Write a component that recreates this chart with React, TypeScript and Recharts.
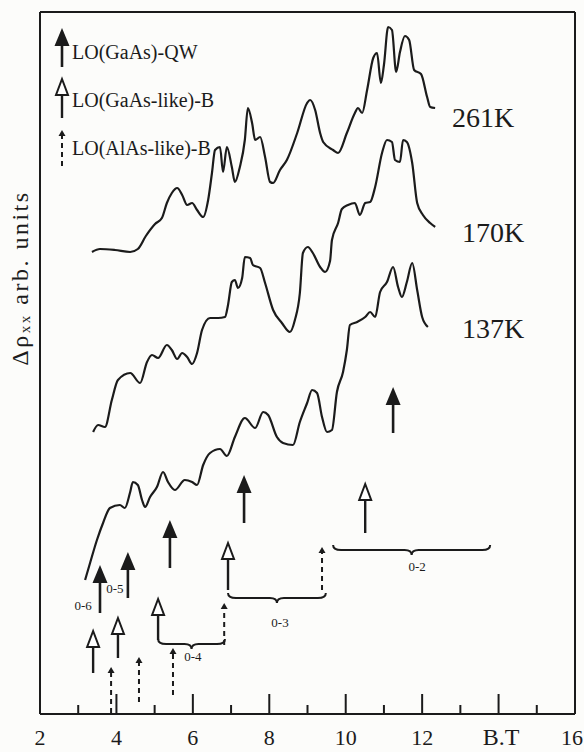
import React from 'react';
import { ComposedChart, Line, Scatter, XAxis, YAxis, ReferenceLine, Legend } from 'recharts';

const INK = '#1b1b1b';
const SERIF = '"Liberation Serif", "DejaVu Serif", "Times New Roman", serif';

// Magnetoresistance oscillations, Δρxx (arb. units) versus B (T)
const curve261K = [
  { b: 3.36, v: 46.2 }, { b: 3.57, v: 46.5 }, { b: 3.96, v: 46.4 }, { b: 4.36, v: 46.2 }, { b: 4.56, v: 46.5 },
  { b: 4.77, v: 47.8 }, { b: 5.01, v: 49.0 }, { b: 5.19, v: 49.6 }, { b: 5.32, v: 51.1 }, { b: 5.45, v: 52.1 },
  { b: 5.59, v: 52.6 }, { b: 5.72, v: 51.9 }, { b: 5.85, v: 50.9 }, { b: 5.98, v: 51.1 }, { b: 6.11, v: 50.4 },
  { b: 6.27, v: 49.7 }, { b: 6.40, v: 51.4 }, { b: 6.50, v: 54.1 }, { b: 6.58, v: 56.4 }, { b: 6.71, v: 56.7 },
  { b: 6.79, v: 54.2 }, { b: 6.89, v: 56.7 }, { b: 7.02, v: 54.7 }, { b: 7.10, v: 53.2 }, { b: 7.23, v: 54.7 },
  { b: 7.36, v: 57.4 }, { b: 7.44, v: 60.6 }, { b: 7.55, v: 59.1 }, { b: 7.63, v: 57.4 }, { b: 7.76, v: 57.7 },
  { b: 7.89, v: 55.7 }, { b: 8.02, v: 53.2 }, { b: 8.10, v: 53.1 }, { b: 8.28, v: 54.4 }, { b: 8.46, v: 55.4 },
  { b: 8.73, v: 58.1 }, { b: 8.99, v: 61.1 }, { b: 9.07, v: 61.4 }, { b: 9.20, v: 60.4 }, { b: 9.33, v: 58.1 },
  { b: 9.41, v: 57.2 }, { b: 9.67, v: 56.4 }, { b: 9.80, v: 56.1 }, { b: 10.03, v: 58.1 }, { b: 10.24, v: 60.1 },
  { b: 10.32, v: 60.6 }, { b: 10.43, v: 60.1 }, { b: 10.56, v: 62.4 }, { b: 10.72, v: 65.6 }, { b: 10.82, v: 66.1 },
  { b: 10.92, v: 63.1 }, { b: 11.00, v: 64.9 }, { b: 11.11, v: 68.7 }, { b: 11.21, v: 68.4 }, { b: 11.32, v: 64.2 },
  { b: 11.42, v: 66.2 }, { b: 11.55, v: 67.8 }, { b: 11.66, v: 67.4 }, { b: 11.79, v: 64.4 }, { b: 11.97, v: 64.0 },
  { b: 12.13, v: 61.7 }, { b: 12.21, v: 60.7 }, { b: 12.34, v: 60.6 },
];

const curve170K = [
  { b: 3.39, v: 28.2 }, { b: 3.52, v: 28.9 }, { b: 3.70, v: 28.7 }, { b: 3.88, v: 31.4 }, { b: 4.04, v: 33.4 },
  { b: 4.36, v: 34.1 }, { b: 4.62, v: 33.1 }, { b: 4.80, v: 35.2 }, { b: 4.93, v: 35.9 }, { b: 5.09, v: 35.6 },
  { b: 5.32, v: 36.9 }, { b: 5.45, v: 36.4 }, { b: 5.59, v: 35.5 }, { b: 5.72, v: 36.1 }, { b: 5.85, v: 35.7 },
  { b: 5.98, v: 35.0 }, { b: 6.11, v: 36.1 }, { b: 6.24, v: 38.4 }, { b: 6.45, v: 39.6 }, { b: 6.66, v: 39.6 },
  { b: 6.84, v: 39.7 }, { b: 6.92, v: 40.9 }, { b: 7.02, v: 43.2 }, { b: 7.10, v: 43.4 }, { b: 7.18, v: 42.6 },
  { b: 7.29, v: 43.6 }, { b: 7.36, v: 45.7 }, { b: 7.50, v: 45.6 }, { b: 7.57, v: 44.9 }, { b: 7.76, v: 44.6 },
  { b: 7.89, v: 43.1 }, { b: 8.10, v: 40.4 }, { b: 8.33, v: 39.1 }, { b: 8.54, v: 38.2 }, { b: 8.67, v: 39.4 },
  { b: 8.80, v: 42.1 }, { b: 8.88, v: 46.1 }, { b: 9.01, v: 46.7 }, { b: 9.14, v: 46.1 }, { b: 9.33, v: 44.7 },
  { b: 9.46, v: 44.2 }, { b: 9.59, v: 45.3 }, { b: 9.64, v: 47.4 }, { b: 9.80, v: 49.1 }, { b: 9.90, v: 50.5 },
  { b: 10.06, v: 50.9 }, { b: 10.24, v: 51.1 }, { b: 10.37, v: 49.9 }, { b: 10.51, v: 51.1 }, { b: 10.64, v: 51.2 },
  { b: 10.77, v: 52.7 }, { b: 10.95, v: 56.1 }, { b: 11.08, v: 57.4 }, { b: 11.21, v: 57.2 }, { b: 11.29, v: 55.4 },
  { b: 11.42, v: 55.2 }, { b: 11.50, v: 57.4 }, { b: 11.60, v: 57.2 }, { b: 11.74, v: 55.1 }, { b: 11.87, v: 51.1 },
  { b: 12.02, v: 49.9 }, { b: 12.21, v: 49.1 }, { b: 12.34, v: 48.7 },
];

const curve137K = [
  { b: 3.18, v: 13.4 }, { b: 3.31, v: 15.1 }, { b: 3.49, v: 17.4 }, { b: 3.65, v: 19.1 }, { b: 3.83, v: 20.6 },
  { b: 4.09, v: 20.9 }, { b: 4.22, v: 20.6 }, { b: 4.36, v: 22.2 }, { b: 4.43, v: 23.2 }, { b: 4.56, v: 22.9 },
  { b: 4.67, v: 21.4 }, { b: 4.75, v: 20.7 }, { b: 4.88, v: 21.7 }, { b: 5.06, v: 22.7 }, { b: 5.22, v: 24.2 },
  { b: 5.35, v: 23.2 }, { b: 5.53, v: 22.4 }, { b: 5.79, v: 23.4 }, { b: 5.98, v: 23.2 }, { b: 6.11, v: 22.9 },
  { b: 6.27, v: 24.9 }, { b: 6.45, v: 26.1 }, { b: 6.71, v: 26.5 }, { b: 6.89, v: 25.8 }, { b: 7.10, v: 27.7 },
  { b: 7.36, v: 29.6 }, { b: 7.63, v: 28.6 }, { b: 7.84, v: 30.2 }, { b: 7.97, v: 29.9 }, { b: 8.20, v: 27.7 },
  { b: 8.36, v: 27.1 }, { b: 8.62, v: 26.9 }, { b: 8.80, v: 29.2 }, { b: 8.99, v: 31.1 }, { b: 9.12, v: 32.4 },
  { b: 9.25, v: 32.1 }, { b: 9.38, v: 29.7 }, { b: 9.51, v: 28.2 }, { b: 9.64, v: 28.4 }, { b: 9.77, v: 32.2 },
  { b: 9.93, v: 34.2 }, { b: 10.03, v: 36.4 }, { b: 10.11, v: 38.9 }, { b: 10.30, v: 39.2 }, { b: 10.51, v: 39.7 },
  { b: 10.64, v: 40.2 }, { b: 10.77, v: 39.7 }, { b: 10.90, v: 42.2 }, { b: 11.08, v: 43.2 }, { b: 11.24, v: 44.7 },
  { b: 11.37, v: 42.7 }, { b: 11.47, v: 41.7 }, { b: 11.60, v: 43.2 }, { b: 11.74, v: 45.1 }, { b: 11.87, v: 42.4 },
  { b: 12.00, v: 39.7 }, { b: 12.15, v: 38.7 },
];

// Phonon-resonance markers: position in B, tail and tip heights (arb. units)
const qwArrows = [
  { b: 3.57, tail: 10.1, tip: 14.9 },
  { b: 4.30, tail: 11.6, tip: 16.2 },
  { b: 5.40, tail: 14.6, tip: 19.4 },
  { b: 7.34, tail: 19.1, tip: 23.9 },
  { b: 11.24, tail: 28.1, tip: 32.7 },
];
const gaasLikeArrows = [
  { b: 3.39, tail: 4.1, tip: 8.4 },
  { b: 4.04, tail: 5.6, tip: 9.7 },
  { b: 5.09, tail: 7.4, tip: 11.6 },
  { b: 6.92, tail: 12.4, tip: 17.2 },
  { b: 10.51, tail: 18.1, tip: 23.1 },
];
const alasLikeArrows = [
  { b: 3.86, tail: 0.1, tip: 4.7 },
  { b: 4.59, tail: 1.2, tip: 5.7 },
  { b: 5.48, tail: 1.9, tip: 6.6 },
  { b: 6.82, tail: 6.9, tip: 11.1 },
  { b: 9.38, tail: 12.4, tip: 16.7 },
];

const braces = [
  { from: 5.09, to: 6.84, level: 7.0 },
  { from: 6.92, to: 9.48, level: 11.6 },
  { from: 9.67, to: 13.78, level: 16.4 },
];
const transitionLabels = [
  { b: 3.13, v: 10.8, text: '0-6' },
  { b: 3.96, v: 12.5, text: '0-5' },
  { b: 6.00, v: 5.7, text: '0-4' },
  { b: 8.28, v: 9.1, text: '0-3' },
  { b: 11.87, v: 14.7, text: '0-2' },
];
const temperatureLabels = [
  { b: 12.78, v: 59.7, text: '261K' },
  { b: 13.04, v: 48.2, text: '170K' },
  { b: 13.04, v: 38.6, text: '137K' },
];

const legendLabels = ['LO(GaAs)-QW', 'LO(GaAs-like)-B', 'LO(AlAs-like)-B'];

const xTicks = [2, 3, 4, 5, 6, 7, 8, 9, 10, 11, 12, 13, 14, 15, 16];
const xMajorTicks = [2, 4, 6, 8, 10, 12, 14, 16];
const xTickLabels = ['2', '4', '6', '8', '10', '12', '', '16'];
const yDomain = [0, 70.2];

const FilledHead = ({ x, y }: { x: number; y: number }) => (
  <polygon points={`${x},${y} ${x - 7.5},${y + 18} ${x + 7.5},${y + 18}`} fill={INK} />
);
const OpenHead = ({ x, y }: { x: number; y: number }) => (
  <polygon points={`${x},${y + 1} ${x - 6},${y + 17} ${x + 6},${y + 17}`} fill="#fff" stroke={INK} strokeWidth={2} />
);
const SmallHead = ({ x, y }: { x: number; y: number }) => (
  <polygon points={`${x},${y} ${x - 3.5},${y + 6} ${x + 3.5},${y + 6}`} fill={INK} />
);

const FilledArrow = (p: any) => (
  <g>
    <line x1={p.x1} y1={p.y1} x2={p.x2} y2={p.y2 + 14} stroke={INK} strokeWidth={2.6} />
    <FilledHead x={p.x2} y={p.y2} />
  </g>
);
const OpenArrow = (p: any) => (
  <g>
    <line x1={p.x1} y1={p.y1} x2={p.x2} y2={p.y2 + 17} stroke={INK} strokeWidth={2.4} />
    <OpenHead x={p.x2} y={p.y2} />
  </g>
);
const DashedArrow = (p: any) => (
  <g>
    <line x1={p.x1} y1={p.y1} x2={p.x2} y2={p.y2 + 6} stroke={INK} strokeWidth={2} strokeDasharray="5 4" />
    <SmallHead x={p.x2} y={p.y2} />
  </g>
);
const BraceShape = (p: any) => {
  const x1 = Math.min(p.x1, p.x2);
  const x2 = Math.max(p.x1, p.x2);
  const y = p.y1;
  const xm = (x1 + x2) / 2;
  const h = 5;
  const d =
    `M${x1},${y - h} Q${x1},${y} ${x1 + 8},${y} L${xm - 7},${y} Q${xm},${y} ${xm},${y + h} ` +
    `Q${xm},${y} ${xm + 7},${y} L${x2 - 8},${y} Q${x2},${y} ${x2},${y - h}`;
  return <path d={d} fill="none" stroke={INK} strokeWidth={2} />;
};

const BottomTick = (p: any) => {
  const v = p.payload.value;
  const idx = xMajorTicks.indexOf(v);
  const major = idx >= 0;
  const label = major ? xTickLabels[idx] : '';
  const last = idx === xMajorTicks.length - 1;
  return (
    <g>
      <line x1={p.x} y1={p.y} x2={p.x} y2={p.y - (major ? 20 : 9)} stroke={INK} strokeWidth={2} />
      {label ? (
        <text
          x={last ? p.x + 8 : p.x}
          y={p.y + 31}
          textAnchor={last ? 'end' : 'middle'}
          fontSize={22}
          fontFamily={SERIF}
          fill={INK}
        >
          {label}
        </text>
      ) : null}
    </g>
  );
};
const TopTick = (p: any) => {
  const major = xMajorTicks.indexOf(p.payload.value) >= 0;
  return <line x1={p.x} y1={p.y} x2={p.x} y2={p.y + (major ? 17 : 8)} stroke={INK} strokeWidth={2} />;
};

const TextMark = (size: number, anchor: 'start' | 'middle') => (p: any) => (
  <text x={p.cx} y={p.cy} dy={size * 0.34} textAnchor={anchor} fontSize={size} fontFamily={SERIF} fill={INK}>
    {p.payload.text}
  </text>
);

const LegendBox = () => (
  <svg width={190} height={150} style={{ overflow: 'visible' }}>
    <line x1={10} y1={41} x2={10} y2={16} stroke={INK} strokeWidth={2.6} />
    <FilledHead x={10} y={2} />
    <line x1={10} y1={92} x2={10} y2={69} stroke={INK} strokeWidth={2.4} />
    <OpenHead x={10} y={52} />
    <line x1={10} y1={140} x2={10} y2={110} stroke={INK} strokeWidth={2} strokeDasharray="5 4" />
    <SmallHead x={10} y={104} />
    {legendLabels.map((t, i) => (
      <text key={t} x={20} y={26 + i * 48 + 7} fontSize={20} fontFamily={SERIF} fill={INK}>
        {t}
      </text>
    ))}
  </svg>
);

const YLabel = (props: any) => {
  const vb = props.viewBox || { x: 0, y: 12, width: 40, height: 702 };
  const cx = vb.x + vb.width - 20;
  const cy = vb.y + 266;
  return (
    <text
      x={cx}
      y={cy}
      transform={`rotate(-90, ${cx}, ${cy})`}
      textAnchor="middle"
      dominantBaseline="central"
      fontSize={24}
      letterSpacing={2.5}
      fontFamily={SERIF}
      fill={INK}
    >
      Δρ
      <tspan fontSize={15} dy={5}>xx</tspan>
      <tspan dy={-5}> arb. units</tspan>
    </text>
  );
};
const XLabel = (props: any) => {
  const vb = props.viewBox || { x: 40, y: 714, width: 535 };
  return (
    <text x={vb.x + vb.width - 74} y={vb.y + 31} textAnchor="middle" fontSize={24} fontFamily={SERIF} fill={INK}>
      B.T
    </text>
  );
};

export default function App() {
  return (
    <div style={{ position: 'absolute', left: 0, top: 0, width: 584, height: 752, background: '#fcfcfa' }}>
      <ComposedChart width={584} height={752} margin={{ top: 11, right: 0, bottom: 0, left: 0 }}>
        <XAxis
          dataKey="b"
          type="number"
          domain={[2, 16]}
          ticks={xTicks}
          interval={0}
          height={38}
          tickSize={0}
          tickMargin={0}
          tickLine={false}
          tick={BottomTick}
          axisLine={{ stroke: INK, strokeWidth: 2 }}
          label={XLabel}
        />
        <XAxis
          xAxisId="top"
          orientation="top"
          type="number"
          domain={[2, 16]}
          ticks={xTicks}
          interval={0}
          height={1}
          tickSize={0}
          tickMargin={0}
          tickLine={false}
          tick={TopTick}
          axisLine={{ stroke: INK, strokeWidth: 2 }}
        />
        <YAxis
          dataKey="v"
          type="number"
          domain={yDomain}
          width={40}
          tick={false}
          tickLine={false}
          axisLine={{ stroke: INK, strokeWidth: 2 }}
          label={YLabel}
        />
        <YAxis
          yAxisId="right"
          orientation="right"
          type="number"
          domain={yDomain}
          width={9}
          tick={false}
          tickLine={false}
          axisLine={{ stroke: INK, strokeWidth: 2 }}
        />

        <Line data={curve261K} dataKey="v" name="261K" type="monotone" stroke={INK} strokeWidth={2.2} dot={false} activeDot={false} isAnimationActive={false} />
        <Line data={curve170K} dataKey="v" name="170K" type="monotone" stroke={INK} strokeWidth={2.2} dot={false} activeDot={false} isAnimationActive={false} />
        <Line data={curve137K} dataKey="v" name="137K" type="monotone" stroke={INK} strokeWidth={2.2} dot={false} activeDot={false} isAnimationActive={false} />

        {braces.map((br, i) => (
          <ReferenceLine key={`br${i}`} segment={[{ x: br.from, y: br.level }, { x: br.to, y: br.level }]} shape={BraceShape} />
        ))}
        {qwArrows.map((a, i) => (
          <ReferenceLine key={`qw${i}`} segment={[{ x: a.b, y: a.tail }, { x: a.b, y: a.tip }]} shape={FilledArrow} />
        ))}
        {gaasLikeArrows.map((a, i) => (
          <ReferenceLine key={`gb${i}`} segment={[{ x: a.b, y: a.tail }, { x: a.b, y: a.tip }]} shape={OpenArrow} />
        ))}
        {alasLikeArrows.map((a, i) => (
          <ReferenceLine key={`ab${i}`} segment={[{ x: a.b, y: a.tail }, { x: a.b, y: a.tip }]} shape={DashedArrow} />
        ))}

        <Scatter data={transitionLabels} dataKey="v" legendType="none" shape={TextMark(13, 'middle')} isAnimationActive={false} />
        <Scatter data={temperatureLabels} dataKey="v" legendType="none" shape={TextMark(28, 'start')} isAnimationActive={false} />

        <Legend
          layout="vertical"
          align="center"
          verticalAlign="middle"
          content={LegendBox}
          wrapperStyle={{ left: 52, top: 26, width: 190, height: 150, right: 'auto', bottom: 'auto' }}
        />
      </ComposedChart>
    </div>
  );
}
